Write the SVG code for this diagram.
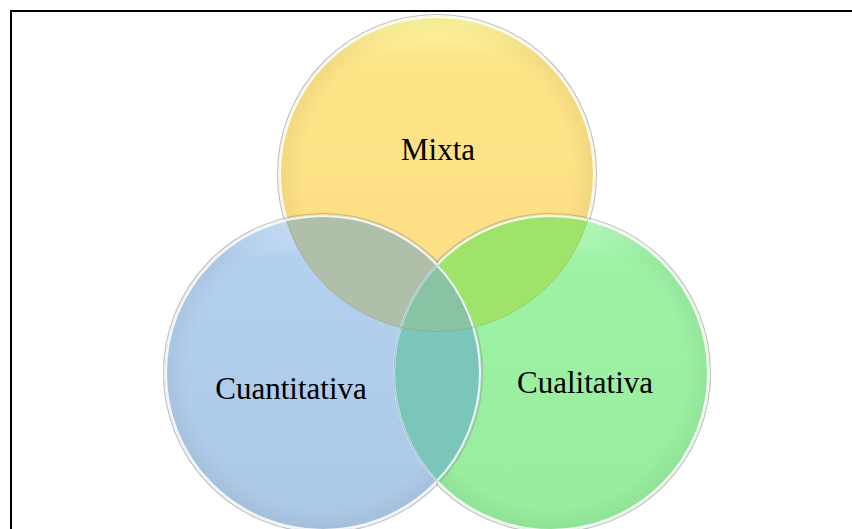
<svg xmlns="http://www.w3.org/2000/svg" width="852" height="529" viewBox="0 0 852 529">
<style>
.lbl{font-family:"Liberation Serif","Times New Roman",serif;font-size:31px;fill:#000;text-anchor:middle}
.rim{fill:none;stroke:#ffffff;stroke-width:2;stroke-opacity:0.85}
.shadow{fill:none;stroke:#9a9a9a;stroke-width:1.2;stroke-opacity:0.6}
</style>
<defs>
<clipPath id="cM"><circle cx="437" cy="174" r="158"/></clipPath>
<clipPath id="cQ"><circle cx="323" cy="373" r="158"/></clipPath>
<clipPath id="cL"><circle cx="551" cy="373" r="158"/></clipPath>
<linearGradient id="gM" x1="0" y1="0" x2="0" y2="1">
<stop offset="0" stop-color="#fff8a0"/><stop offset="0.14" stop-color="#fde487"/><stop offset="1" stop-color="#fddd84"/>
</linearGradient>
<linearGradient id="gQ" x1="0" y1="0" x2="0" y2="1">
<stop offset="0" stop-color="#cfe7ff"/><stop offset="0.14" stop-color="#b3d0ee"/><stop offset="1" stop-color="#abc8e6"/>
</linearGradient>
<linearGradient id="gL" x1="0" y1="0" x2="0" y2="1">
<stop offset="0" stop-color="#c0ffc6"/><stop offset="0.14" stop-color="#9ef2a5"/><stop offset="1" stop-color="#97ec9d"/>
</linearGradient>
<radialGradient id="edge" cx="0.5" cy="0.5" r="0.5">
<stop offset="0.85" stop-color="#000" stop-opacity="0"/><stop offset="1" stop-color="#000" stop-opacity="0.05"/>
</radialGradient>
</defs>
<rect x="11" y="11" width="900" height="600" fill="none" stroke="#000" stroke-width="2"/>
<g id="mixta">
<circle cx="437" cy="174" r="159.5" class="shadow"/>
<circle cx="437" cy="174" r="158" fill="url(#gM)"/>
<circle cx="437" cy="174" r="158" fill="url(#edge)"/>
<circle cx="437" cy="174" r="157" class="rim"/>
</g>
<g id="cualitativa">
<circle cx="551" cy="373" r="159.5" class="shadow"/>
<circle cx="551" cy="373" r="158" fill="url(#gL)"/>
<circle cx="551" cy="373" r="158" fill="url(#edge)"/>
</g>
<g id="cuantitativa">
<circle cx="323" cy="373" r="159.5" class="shadow"/>
<circle cx="323" cy="373" r="158" fill="url(#gQ)"/>
<circle cx="323" cy="373" r="158" fill="url(#edge)"/>
</g>
<g id="overlaps">
<g clip-path="url(#cM)">
<circle cx="323" cy="373" r="158" fill="#afbfa9"/>
<circle cx="551" cy="373" r="158" fill="#a0e36a"/>
</g>
<g clip-path="url(#cQ)">
<circle cx="551" cy="373" r="158" fill="#7bc6bb"/>
</g>
<g clip-path="url(#cQ)"><g clip-path="url(#cM)"><circle cx="551" cy="373" r="158" fill="#88c3a3"/></g></g>
</g>
<g id="rims">
<circle cx="551" cy="373" r="157" class="rim"/>
<circle cx="323" cy="373" r="157" class="rim"/>
<circle cx="551" cy="373" r="157" fill="none" stroke="#7a9bb8" stroke-width="1.2" stroke-opacity="0.6" clip-path="url(#cQ)"/>
<circle cx="437" cy="174" r="157.5" fill="none" stroke="#8a9a80" stroke-width="1" stroke-opacity="0.3" clip-path="url(#cQ)"/>
<circle cx="437" cy="174" r="157.5" fill="none" stroke="#7fb060" stroke-width="1" stroke-opacity="0.3" clip-path="url(#cL)"/>
</g>
<g id="labels">
<text class="lbl" x="438" y="160">Mixta</text>
<text class="lbl" x="291" y="399">Cuantitativa</text>
<text class="lbl" x="585" y="393">Cualitativa</text>
</g>
</svg>
